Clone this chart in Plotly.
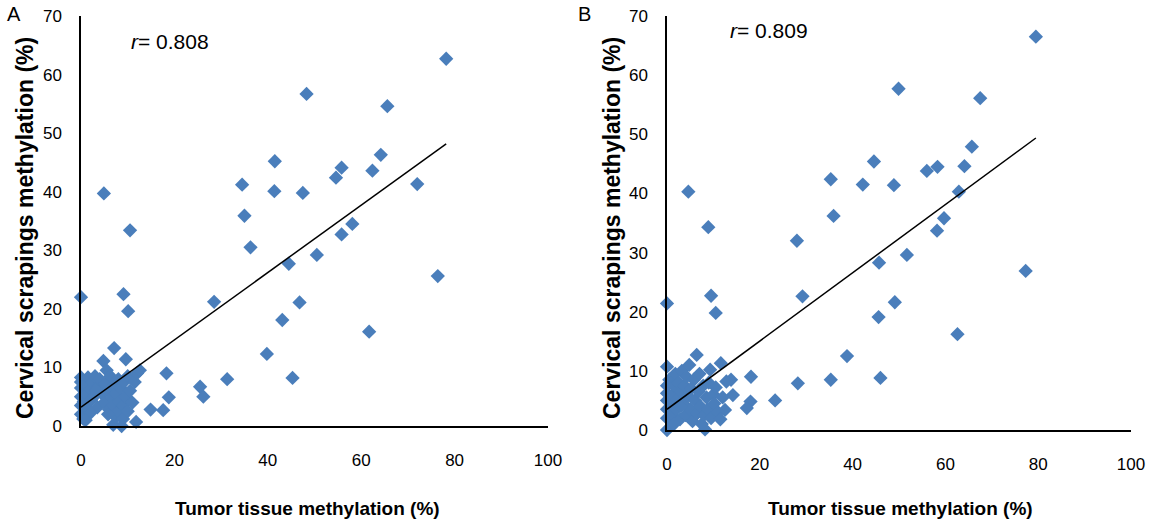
import plotly.graph_objects as go

# ---------------- Panel A data (tumor %, scrapings %) ----------------
a_tumor = [78.2, 48.3, 65.6, 41.5, 64.2, 34.5, 41.4, 47.5, 55.8, 54.6, 62.4, 72.0,
           35.0, 36.3, 58.1, 55.8, 50.5, 44.5, 76.4, 4.9, 10.5, 28.5, 46.8, 43.1,
           61.7, 39.8, 45.3, 31.3, 0.0, 9.1, 10.1, 7.1, 9.6, 4.8, 18.3, 25.5,
           26.2, 18.8, 17.6, 14.9, 11.8, 6.9, 8.7,
           0.0, 0.0, 0.0, 0.0, 0.0, 0.0, 0.5, 0.6, 1.0, 1.2, 1.5, 1.5, 2.0, 2.2,
           2.5, 3.0, 3.0, 3.5, 3.8, 4.0, 4.5, 5.0, 5.2, 5.5, 6.0, 6.0, 6.3, 6.5,
           7.0, 7.2, 7.5, 7.5, 8.0, 8.0, 8.2, 8.5, 9.0, 9.0, 9.2, 9.5, 10.0,
           10.0, 10.5, 11.0, 11.5, 12.0, 12.6, 2.0, 1.0, 3.2, 5.8]
a_scrap = [62.7, 56.7, 54.6, 45.2, 46.3, 41.2, 40.1, 39.8, 44.1, 42.4, 43.6, 41.3,
           35.9, 30.5, 34.5, 32.7, 29.2, 27.7, 25.6, 39.7, 33.4, 21.2, 21.1, 18.1,
           16.1, 12.3, 8.2, 8.0, 22.0, 22.5, 19.6, 13.3, 11.4, 11.1, 9.0, 6.7,
           5.0, 4.9, 2.7, 2.8, 0.7, 0.2, 0.0,
           2.0, 3.5, 5.0, 6.5, 7.5, 8.3, 1.2, 4.2, 7.0, 5.5, 3.0, 8.3, 6.3, 4.5,
           7.5, 5.2, 8.5, 3.2, 6.8, 8.0, 5.5, 4.0, 7.2, 9.5, 2.8, 6.0, 8.5, 4.8,
           3.5, 7.0, 1.5, 5.5, 2.5, 8.0, 4.2, 6.5, 1.2, 3.5, 7.5, 5.0, 2.5,
           8.5, 6.0, 4.0, 7.5, 9.0, 9.5, 2.2, 1.0, 6.0, 2.0]
a_fit = (3.2, 0.575)  # intercept, slope of trend line
a_r = "0.808"

# ---------------- Panel B data ----------------
b_tumor = [79.5, 49.9, 67.5, 44.6, 65.7, 35.3, 42.2, 48.9, 56.0, 58.3, 64.1, 62.9,
           35.9, 59.7, 58.2, 51.7, 45.7, 77.3, 28.0, 29.2, 49.1, 45.6, 62.6, 38.8,
           35.3, 46.0, 4.6, 8.9, 0.0, 9.5, 10.5, 0.0, 6.4, 11.6, 9.3, 18.1, 28.2,
           13.8, 14.2, 23.3, 18.0, 17.2, 0.0, 8.2, 12.5,
           0.0, 0.0, 0.0, 0.0, 0.0, 0.5, 0.8, 1.0, 1.2, 1.5, 1.8, 2.0, 2.2, 2.5,
           2.8, 3.0, 3.2, 3.5, 3.8, 4.0, 4.2, 4.5, 4.8, 5.0, 5.2, 5.5, 5.8, 6.0,
           6.5, 6.8, 7.0, 7.2, 7.5, 7.8, 8.0, 8.5, 8.8, 9.0, 9.5, 10.0, 10.2,
           10.5, 11.0, 12.0, 12.8, 11.5, 1.5, 3.0]
b_scrap = [66.5, 57.7, 56.1, 45.4, 47.9, 42.4, 41.5, 41.4, 43.8, 44.5, 44.6, 40.3,
           36.2, 35.8, 33.7, 29.6, 28.3, 26.9, 32.0, 22.6, 21.6, 19.1, 16.2, 12.5,
           8.5, 8.8, 40.3, 34.3, 21.4, 22.7, 19.8, 10.7, 12.7, 11.3, 10.2, 9.0, 7.9,
           8.5, 5.9, 5.0, 4.8, 3.7, 0.0, 0.1, 3.4,
           2.0, 3.5, 5.0, 6.2, 7.5, 8.5, 4.2, 2.5, 6.0, 7.5, 9.5, 3.5, 5.2, 8.0,
           1.8, 6.5, 10.0, 4.5, 7.5, 2.5, 9.0, 5.8, 11.0, 3.5, 7.0, 1.5, 8.5, 5.0,
           2.8, 6.5, 9.5, 4.0, 1.0, 7.5, 2.5, 5.5, 3.5, 8.0, 2.0, 6.0, 4.5,
           7.2, 3.0, 5.5, 8.2, 1.8, 1.0, 4.0]
b_fit = (3.5, 0.577)
b_r = "0.809"

x_ticks = [0, 20, 40, 60, 80, 100]
y_ticks = [0, 10, 20, 30, 40, 50, 60, 70]

MARK = "#4A7EBB"
FONT = "Liberation Sans, Arial, sans-serif"

fig = go.Figure()

panels = [
    (a_tumor, a_scrap, a_fit, "x", "y"),
    (b_tumor, b_scrap, b_fit, "x2", "y2"),
]
for tx, sy, (b0, b1), xa, ya in panels:
    fig.add_trace(go.Scatter(
        x=tx, y=sy, mode="markers", xaxis=xa, yaxis=ya,
        marker=dict(symbol="diamond", size=11, color=MARK, line=dict(width=0)),
        cliponaxis=False, showlegend=False, hoverinfo="x+y"))
    xs = [0, max(tx)]
    fig.add_trace(go.Scatter(
        x=xs, y=[b0 + b1 * v for v in xs], mode="lines", xaxis=xa, yaxis=ya,
        line=dict(color="black", width=1.5), cliponaxis=False,
        showlegend=False, hoverinfo="skip"))

W, H = 1153, 525
def fx(px):
    return px / W
def fy(py):
    return (H - py) / H

axis_common = dict(showgrid=False, zeroline=False, showline=True, linecolor="black",
                   linewidth=1.5, ticks="", automargin=False,
                   tickfont=dict(family=FONT, size=17, color="black"))

fig.update_layout(
    width=W, height=H, margin=dict(l=0, r=0, t=0, b=0, pad=0, autoexpand=False),
    paper_bgcolor="white", plot_bgcolor="white",
    xaxis=dict(domain=[fx(81), fx(548)], range=[0, 100], tickvals=x_ticks,
               anchor="y", ticklabelstandoff=18, **axis_common),
    yaxis=dict(domain=[fy(426), fy(16)], range=[0, 70], tickvals=y_ticks,
               anchor="x", ticklabelstandoff=14, **axis_common),
    xaxis2=dict(domain=[fx(667), fx(1131)], range=[0, 100], tickvals=x_ticks,
                anchor="y2", ticklabelstandoff=18, **axis_common),
    yaxis2=dict(domain=[fy(430), fy(16)], range=[0, 70], tickvals=y_ticks,
                anchor="x2", ticklabelstandoff=14, **axis_common),
)

ann = []
for letter, lx in [("A", 14), ("B", 584)]:
    ann.append(dict(text=letter, x=fx(lx), y=fy(14), xref="paper", yref="paper",
                    showarrow=False, font=dict(family=FONT, size=20, color="black"),
                    xanchor="center", yanchor="middle"))
for rtxt, cx, cy in [(a_r, 170, 42), (b_r, 769, 30)]:
    ann.append(dict(text="<i>r</i>= " + rtxt, x=fx(cx), y=fy(cy), xref="paper",
                    yref="paper", showarrow=False,
                    font=dict(family=FONT, size=21, color="black"),
                    xanchor="center", yanchor="middle"))
for cx in [307, 900]:
    ann.append(dict(text="<b>Tumor tissue methylation (%)</b>", x=fx(cx), y=fy(508),
                    xref="paper", yref="paper", showarrow=False,
                    font=dict(family=FONT, size=19, color="black"),
                    xanchor="center", yanchor="middle"))
for cx in [25, 612]:
    ann.append(dict(text="<b>Cervical scrapings methylation (%)</b>", x=fx(cx),
                    y=fy(228), xref="paper", yref="paper", showarrow=False,
                    textangle=-90, font=dict(family=FONT, size=23, color="black"),
                    xanchor="center", yanchor="middle"))
fig.update_layout(annotations=ann)

# remove the browser's default 8px body margin so the figure sits at (0, 0)
fig.write_html("out.html",
               config={"displayModeBar": False},
               post_script="document.body.style.margin='0px';"
                           "document.body.style.overflow='hidden';")
